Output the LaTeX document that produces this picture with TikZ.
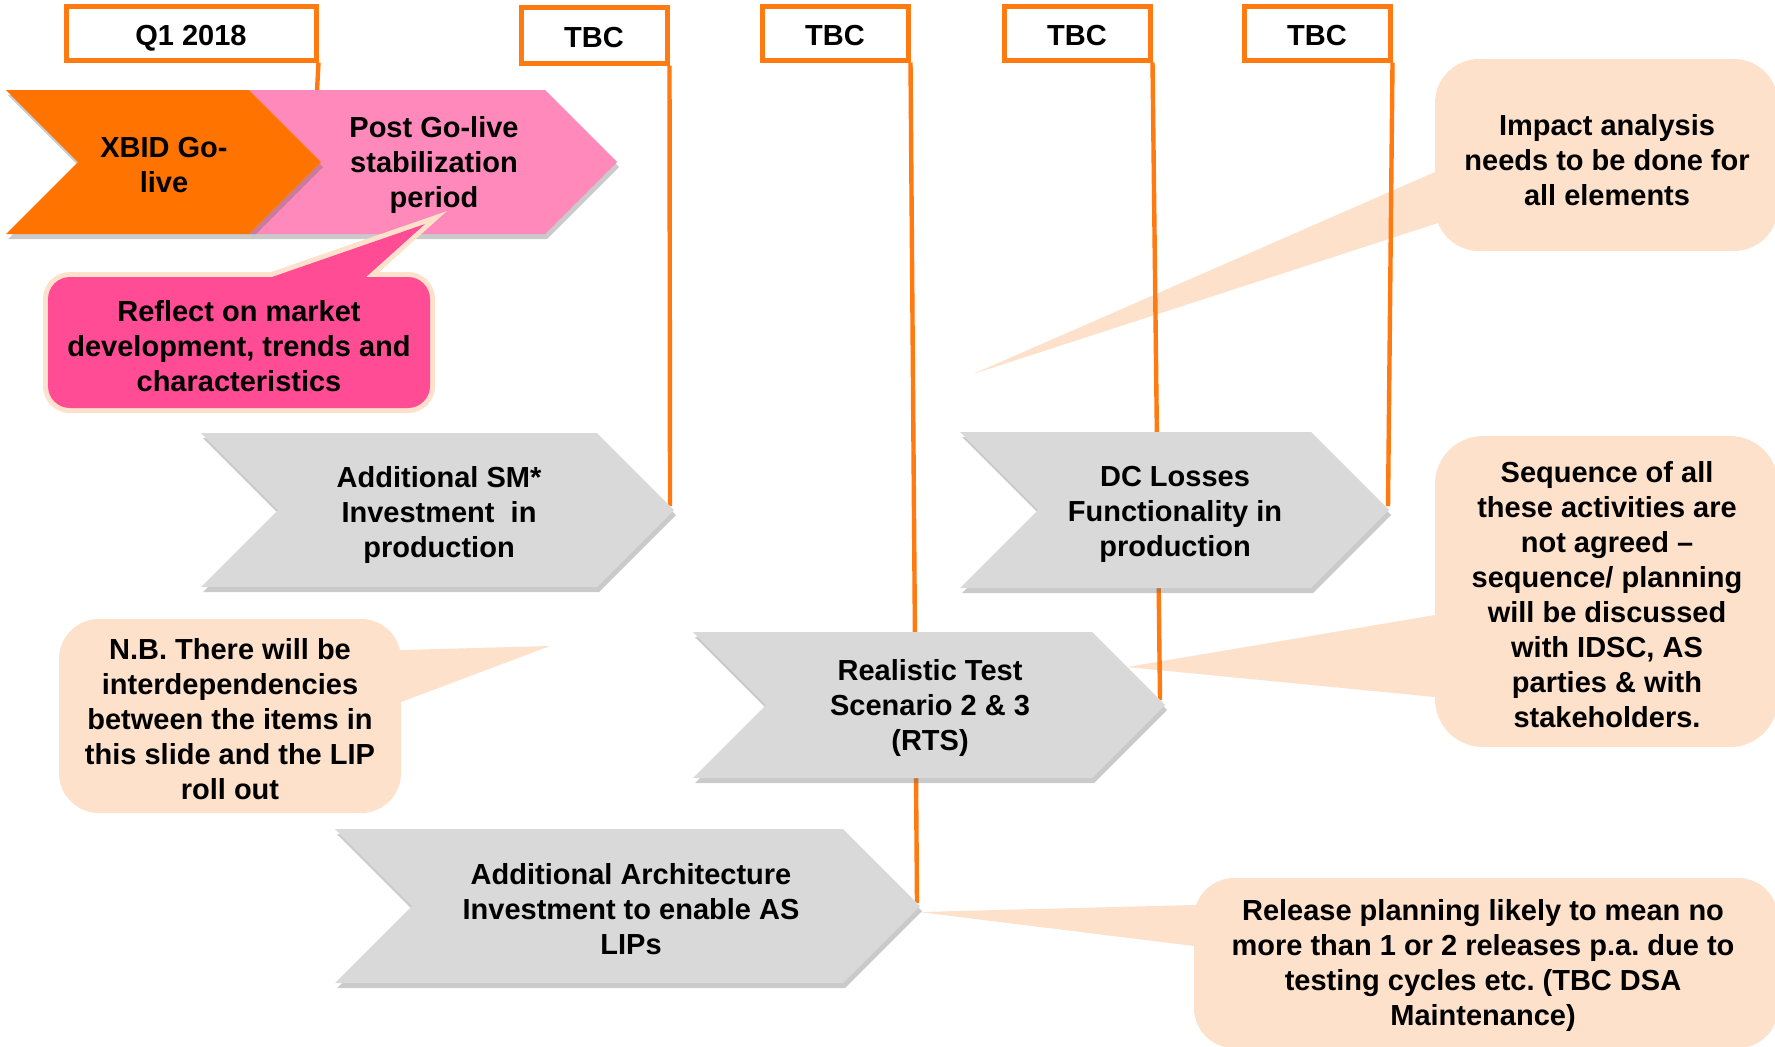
\documentclass[tikz,border=0pt]{standalone}
\usepackage{fontspec}
\setmainfont{Liberation Sans}
\usetikzlibrary{shadows,calc}
\definecolor{orng}{HTML}{FF7300}
\definecolor{lineor}{HTML}{FF7A10}
\definecolor{pnk}{HTML}{FF89BA}
\definecolor{hotpnk}{HTML}{FF4C95}
\definecolor{peach}{HTML}{FDE1CB}
\definecolor{chevgray}{HTML}{D9D9D9}
\begin{document}
\begin{tikzpicture}[x=0.5pt,y=-0.5pt,
  lbl/.style={font=\fontsize{14.5}{17.5}\selectfont\bfseries\frenchspacing, align=center, text=black, inner sep=0pt},
  hdr/.style={draw=lineor, line width=2.5pt, fill=white, minimum height=27pt, minimum width=73pt, inner sep=0pt,
     text height=12.8pt, text depth=0pt,
     font=\fontsize{14.5}{17.5}\selectfont\bfseries},
  shad/.style={drop shadow={shadow xshift=1pt, shadow yshift=-2.5pt, opacity=0.35, fill=black!60}},
  chev/.style={fill=chevgray, shad},
  tl/.style={draw=lineor, line width=2.2pt},
  calloutfill/.style={fill=peach}]
\useasboundingbox (0,0) rectangle (1775,1046);
\clip (0,0) rectangle (1775,1046);

% ---- peach callouts (behind lines) ----
\fill[calloutfill, rounded corners=22pt] (1435,59) rectangle (1778,251);
\coordinate (ti) at (973,374);
\fill[calloutfill] ($(ti)!1.06!(1435,172)$) -- (ti) -- ($(ti)!1.06!(1435,224)$) -- cycle;
\node[lbl] (impact) at (1607,160) {Impact analysis\\needs to be done for\\all elements};

\fill[calloutfill, rounded corners=24pt] (1435,436) rectangle (1778,747);
\coordinate (ts) at (1127,667);
\fill[calloutfill] ($(ts)!1.08!(1435,615)$) -- (ts) -- ($(ts)!1.08!(1435,697)$) -- cycle;
\node[lbl] (seq) at (1607,595) {Sequence of all\\these activities are\\not agreed --\\sequence/ planning\\will be discussed\\with IDSC, AS\\parties \& with\\stakeholders.};

\fill[calloutfill, rounded corners=20pt] (59,619) rectangle (401,813);
\coordinate (tn) at (550,646);
\fill[calloutfill] ($(tn)!1.15!(401,650)$) -- (tn) -- ($(tn)!1.15!(401,702)$) -- cycle;
\node[lbl] (nb) at (230,719) {N.B. There will be\\interdependencies\\between the items in\\this slide and the LIP\\roll out};

\fill[calloutfill, rounded corners=20pt] (1194,878) rectangle (1778,1048);
\coordinate (tr) at (919,912);
\fill[calloutfill] ($(tr)!1.08!(1194,905)$) -- (tr) -- ($(tr)!1.08!(1194,946)$) -- cycle;
\node[lbl] (rel) at (1483,965) {Release planning likely to mean no\\more than 1 or 2 releases p.a. due to\\testing cycles etc. (TBC DSA\\Maintenance)};

% ---- header boxes and timeline lines ----
\node[hdr, minimum width=125pt] (h1) at (191,33) {Q1 2018};
\node[hdr, minimum height=28pt] (h2) at (594,35) {TBC};
\node[hdr] (h3) at (835,33) {TBC};
\node[hdr] (h4) at (1077,33) {TBC};
\node[hdr] (h5) at (1317,33) {TBC};

\coordinate (e1) at (316,110);
\coordinate (e2) at (670,506);
\coordinate (e3) at (917,903);
\coordinate (e4) at (1160,700);
\coordinate (e5) at (1388,506);
\draw[tl] (h1.south east) -- (e1);
\draw[tl] (h2.south east) -- (e2);
\draw[tl] (h3.south east) -- (e3);
\draw[tl] (h4.south east) -- (e4);
\draw[tl] (h5.south east) -- (e5);

% ---- chevrons ----
\path[fill=pnk, shad] (249,90) -- (545,90) -- (617,162) -- (545,234) -- (249,234) -- (321,162) -- cycle;
\path[fill=orng, shad] (6,90) -- (249,90) -- (321,162) -- (249,234) -- (6,234) -- (78,162) -- cycle;
\node[lbl] (xbid) at (164,165) {XBID Go-\\live};
\node[lbl] (post) at (434,165) {Post Go-live\\stabilization\\period};

\path[chev] (201,433) -- (597,433) -- (674,510) -- (597,587) -- (201,587) -- (278,510) -- cycle;
\node[lbl] (sm) at (439,515) {Additional SM*\\Investment\ \ in\\production};

\path[chev] (960,432) -- (1311,432) -- (1389,510) -- (1311,588) -- (960,588) -- (1038,510) -- cycle;
\node[lbl] (dc) at (1175,514) {DC Losses\\Functionality in\\production};

\path[chev] (693,632) -- (1092,632) -- (1165,705) -- (1092,778) -- (693,778) -- (766,705) -- cycle;
\node[lbl] (rts) at (930,708) {Realistic Test\\Scenario 2 \& 3\\(RTS)};

\path[chev] (335,829) -- (843,829) -- (920,906) -- (843,983) -- (335,983) -- (412,906) -- cycle;
\node[lbl] (arch) at (631,909) {Additional Architecture\\Investment to enable AS\\LIPs};

% ---- pink callout (over chevrons) ----
\coordinate (tp) at (425,224);
\draw[peach, line width=5pt, rounded corners=11pt] (48,277) rectangle (430,408);
\draw[peach, line width=5pt, line join=miter] ($(tp)!1.28!(272,277)$) -- (tp) -- ($(tp)!1.28!(366,277)$) -- cycle;
\fill[hotpnk, rounded corners=11pt] (48,277) rectangle (430,408);
\fill[hotpnk] ($(tp)!1.28!(272,277)$) -- (tp) -- ($(tp)!1.28!(366,277)$) -- cycle;
\node[lbl] (reflect) at (239,346) {Reflect on market\\development, trends and\\characteristics};
\end{tikzpicture}
\end{document}
